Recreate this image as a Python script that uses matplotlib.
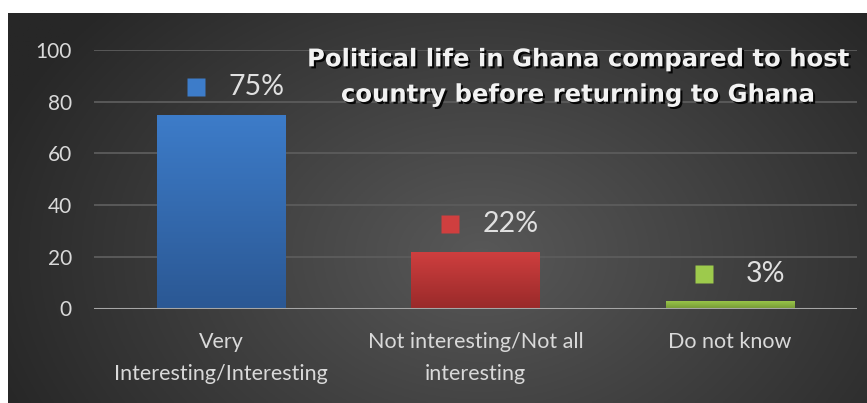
import numpy as np
import matplotlib
matplotlib.use("Agg")
import matplotlib.pyplot as plt
import matplotlib.patheffects as pe
from matplotlib.colors import LinearSegmentedColormap

categories = ["Very\nInteresting/Interesting", "Not interesting/Not all\ninteresting", "Do not know"]
values = [75, 22, 3]
labels = ["75%", "22%", "3%"]
yticks = [0, 20, 40, 60, 80, 100]
title = "Political life in Ghana compared to host\ncountry before returning to Ghana"

top_colors = ["#3d7cc9", "#cf3f3f", "#9dca4c"]
bot_colors = ["#2b5894", "#9a2a2a", "#789c37"]

W, H = 867, 403
fig = plt.figure(figsize=(W / 100, H / 100), dpi=100)
fig.patch.set_facecolor("white")

# background panel with radial gradient
bg = fig.add_axes([8 / W, 0, (W - 8) / W, (H - 13) / H])
bg.set_axis_off()
ny, nx = 200, 440
yy, xx = np.mgrid[0:ny, 0:nx]
cx, cy = nx * 0.55, ny * 0.62
r = np.sqrt(((xx - cx) / (nx * 0.6)) ** 2 + ((yy - cy) / (ny * 0.95)) ** 2)
r = np.clip(r, 0, 1)
c0 = np.array([0x58, 0x58, 0x58]) / 255
c1 = np.array([0x27, 0x27, 0x27]) / 255
img = c0[None, None, :] * (1 - r[..., None]) + c1[None, None, :] * r[..., None]
bg.imshow(img, aspect="auto", extent=[0, 1, 0, 1], origin="upper")
bg.set_xlim(0, 1)
bg.set_ylim(0, 1)

# main axes
x0, x1 = 94, 857
y_top, y_zero = 50, 308.5
ax = fig.add_axes([x0 / W, (H - y_zero) / H, (x1 - x0) / W, (y_zero - y_top) / H])
ax.patch.set_alpha(0)
ax.set_xlim(-0.5, 2.5)
ax.set_ylim(0, 100)
for s in ax.spines.values():
    s.set_visible(False)
ax.set_yticks(yticks)
ax.tick_params(axis="y", length=0, pad=16, labelsize=15, labelcolor="#d9d9d9")
ax.tick_params(axis="x", length=0, pad=17, labelsize=15.5, labelcolor="#d9d9d9")
for lbl in ax.get_yticklabels() + ax.get_xticklabels():
    lbl.set_fontfamily("Lato")
for t in yticks[1:]:
    ax.axhline(t, color="#5c5c5c", lw=1.3, zorder=1)

xs = np.arange(len(categories))
bars = ax.bar(xs, values, width=0.505, color=top_colors, zorder=2)
for b, ct, cb in zip(bars, top_colors, bot_colors):
    cmap = LinearSegmentedColormap.from_list("g", [cb, ct])
    grad = np.linspace(0, 1, 100).reshape(-1, 1)
    x_l = b.get_x()
    im = ax.imshow(grad, cmap=cmap, aspect="auto", origin="lower",
                   extent=[x_l, x_l + b.get_width(), 0, b.get_height()], zorder=3)
    im.set_clip_path(b)
ax.set_xlim(-0.5, 2.5)
ax.set_ylim(0, 100)
ax.axhline(0, color="#a6a6a6", lw=2.2, zorder=4)

ax.set_xticks(xs)
ax.set_xticklabels(categories, linespacing=1.75)
for lbl in ax.get_xticklabels():
    lbl.set_fontfamily("Lato")

for x, v, lab, ct in zip(xs, values, labels, top_colors):
    ax.plot(x - 0.1, v + 10.5, marker="s", ms=13.5, color=ct, mec="none", zorder=5)
    ax.text(x + 0.14, v + 10.5, lab, ha="center", va="center", fontsize=20.5,
            color="#e0e0e0", family="Lato", zorder=5)

fig.text(577 / W, 1 - 77 / H, title, ha="center", va="center", fontsize=17.5,
         fontweight="bold", color="#f2f2f2", family="DejaVu Sans", linespacing=1.6,
         path_effects=[pe.withSimplePatchShadow(offset=(1.5, -1.5), shadow_rgbFace="black", alpha=0.9)])

fig.savefig("out.png", dpi=100, facecolor="white")
